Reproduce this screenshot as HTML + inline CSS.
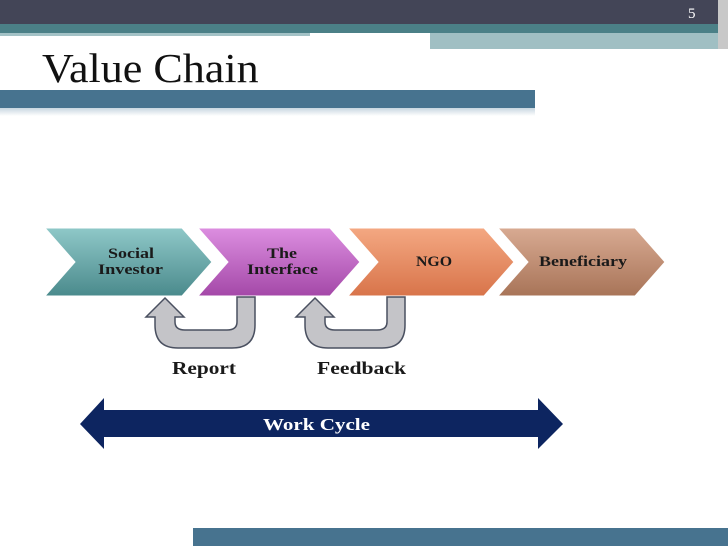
<!DOCTYPE html>
<html><head><meta charset="utf-8"><style>
body{margin:0;width:728px;height:546px;overflow:hidden;background:#fff;position:relative;font-family:"Liberation Serif",serif}
div{position:absolute}
</style></head><body>
<div style="left:0;top:0;width:728px;height:24px;background:#434557"></div>
<div style="left:0;top:24px;width:728px;height:9px;background:#4b8087"></div>
<div style="left:0;top:33px;width:310px;height:3px;background:#a3c2c6"></div>
<div style="left:430px;top:33px;width:288px;height:16px;background:#a0bfc3"></div>
<div style="left:718px;top:0;width:10px;height:49px;background:#c8c8c8"></div>
<div style="left:688px;top:6px;color:#fff;font-size:15px">5</div>
<div style="left:42px;top:44px;font-size:41px;color:#111;transform:scaleX(1.075);transform-origin:0 0">Value Chain</div>
<div style="left:0;top:90px;width:535px;height:18px;background:#47738f"></div>
<div style="left:0;top:108px;width:535px;height:8px;background:linear-gradient(#c8d6e0,#fff)"></div>
<div style="left:193px;top:528px;width:535px;height:18px;background:#47738f"></div>
<svg width="728" height="546" style="position:absolute;left:0;top:0">
<defs>
<linearGradient id="g1" x1="0" y1="0" x2="0" y2="1"><stop offset="0" stop-color="#8fc8c8"/><stop offset="1" stop-color="#4a8a8c"/></linearGradient>
<linearGradient id="g2" x1="0" y1="0" x2="0" y2="1"><stop offset="0" stop-color="#dc8ee0"/><stop offset="1" stop-color="#a448a8"/></linearGradient>
<linearGradient id="g3" x1="0" y1="0" x2="0" y2="1"><stop offset="0" stop-color="#f4a882"/><stop offset="1" stop-color="#d8744a"/></linearGradient>
<linearGradient id="g4" x1="0" y1="0" x2="0" y2="1"><stop offset="0" stop-color="#d8aa92"/><stop offset="1" stop-color="#a87458"/></linearGradient>
</defs>
<g stroke="#fff" stroke-width="1">
<polygon points="45,228 182,228 212,262 182,296 45,296 75,262" fill="url(#g1)"/>
<polygon points="198,228 330,228 360,262 330,296 198,296 228,262" fill="url(#g2)"/>
<polygon points="348,228 484,228 514,262 484,296 348,296 378,262" fill="url(#g3)"/>
<polygon points="498,228 635,228 665,262 635,296 498,296 528,262" fill="url(#g4)"/>
</g>
<g fill="#c4c4c8" stroke="#4a5060" stroke-width="1.5">
<path d="M165,298 L184,317 L175,317 L175,322 Q175,330 185,330 L227,330 Q237,330 237,322 L237,297 L255,297 L255,325 Q255,348 232,348 L178,348 Q155,348 155,325 L155,317 L146,317 Z"/>
<path d="M315,298 L334,317 L325,317 L325,322 Q325,330 335,330 L377,330 Q387,330 387,322 L387,297 L405,297 L405,325 Q405,348 382,348 L328,348 Q305,348 305,325 L305,317 L296,317 Z"/>
</g>
<polygon points="80,424 104,398 104,410 538,410 538,398 563,424 538,449 538,437 104,437 104,449" fill="#0d2560"/>
<g font-family="Liberation Serif,serif" font-weight="bold" fill="#1a1a1a" font-size="15">
<text x="108" y="258" textLength="46" lengthAdjust="spacingAndGlyphs">Social</text>
<text x="98" y="274" textLength="65" lengthAdjust="spacingAndGlyphs">Investor</text>
<text x="267" y="258" textLength="30" lengthAdjust="spacingAndGlyphs">The</text>
<text x="247" y="274" textLength="71" lengthAdjust="spacingAndGlyphs">Interface</text>
<text x="416" y="266" textLength="36" lengthAdjust="spacingAndGlyphs">NGO</text>
<text x="539" y="266" textLength="88" lengthAdjust="spacingAndGlyphs">Beneficiary</text>
<text x="172" y="374" font-size="18" textLength="64" lengthAdjust="spacingAndGlyphs">Report</text>
<text x="317" y="374" font-size="18" textLength="89" lengthAdjust="spacingAndGlyphs">Feedback</text>
<text x="263" y="430" font-size="17" fill="#fff" textLength="107" lengthAdjust="spacingAndGlyphs">Work Cycle</text>
</g>
</svg>
</body></html>
